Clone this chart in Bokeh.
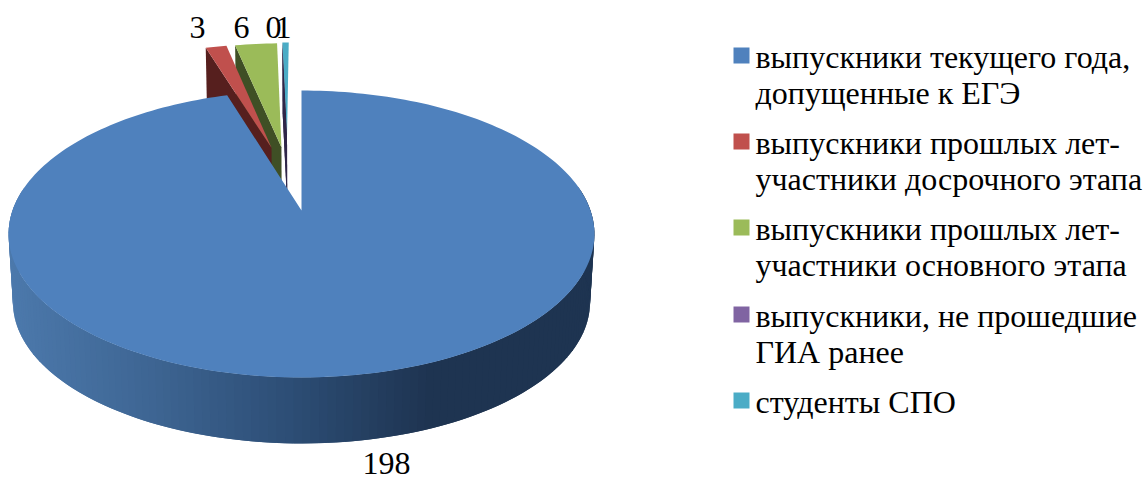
import math
from bokeh.plotting import figure
from bokeh.models import Range1d
from bokeh.embed import file_html
from bokeh.resources import INLINE
from bokeh.core.properties import value

# ---- data ----
categories = [
    ["выпускники текущего года,", "допущенные к ЕГЭ"],
    ["выпускники прошлых лет-", "участники досрочного этапа"],
    ["выпускники прошлых лет-", "участники основного этапа"],
    ["выпускники, не прошедшие", "ГИА ранее"],
    ["студенты СПО"],
]
values = [198, 3, 6, 0, 1]
labels = ["198", "3", "6", "0", "1"]
top_colors = ["#4F81BD", "#C0504D", "#9BBB59", "#8064A2", "#4BACC6"]
wall_colors = ["#2f5079", "#561f1e", "#3f4f25", "#2f2648", "#2f2648"]

# ---- style / layout ----
W, H = 1145, 481
FONT = value("Liberation Serif")
CX, CY = 301.0, 210.0
B, A, C = 0.1638, 139.6, 289.0
DEPTH, SHRINK = 68.5, 0.985
# explosion of each slice on the pie's plane (X, Y), radius factor
explode = [(0, 0, 1.0), (-0.112, 0.485, 1.0), (-0.075, 0.49, 1.0), (-0.055, 0.59, 0.91), (-0.055, 0.59, 0.91)]


def proj(X, Y, low=False):
    d = 1 + B * Y
    x, y = C * X / d, -A * Y / d
    if low:
        return CX + SHRINK * x, CY + SHRINK * y + DEPTH
    return CX + x, CY + y


total = sum(values)
angles = [0.0]
for v in values:
    angles.append(angles[-1] + v / total * 2 * math.pi)


def rim(t, ex, low=False):
    return proj(ex[0] + ex[2] * math.sin(t), ex[1] + ex[2] * math.cos(t), low)


def mix(a, b, f):
    ca = [int(a[i:i + 2], 16) for i in (1, 3, 5)]
    cb = [int(b[i:i + 2], 16) for i in (1, 3, 5)]
    return "#%02x%02x%02x" % tuple(round(p + (q - p) * f) for p, q in zip(ca, cb))


def wall_shade(x):
    stops = [(10, "#4c79ac"), (150, "#3f6795"), (300, "#2d4e76"), (440, "#1e3451"), (600, "#1e3451")]
    for (x0, c0), (x1, c1) in zip(stops, stops[1:]):
        if x <= x1:
            return mix(c0, c1, (x - x0) / (x1 - x0))
    return stops[-1][1]


p = figure(width=W, height=H, x_range=Range1d(0, W), y_range=Range1d(H, 0),
           output_backend="svg", toolbar_location=None, min_border=0,
           outline_line_color=None, background_fill_color="white", border_fill_color="white")
p.axis.visible = False
p.grid.visible = False

# exploded slices, back ones first: radial wall, then top face
for i in (4, 3, 2, 1):
    a0, a1 = angles[i], angles[i + 1]
    ex = explode[i]
    vert = proj(ex[0], ex[1])
    vlow = proj(ex[0], ex[1], True)
    c0, c0low = rim(a0, ex), rim(a0, ex, True)
    p.patch([c0[0], vert[0], vlow[0], c0low[0]], [c0[1], vert[1], vlow[1], c0low[1]],
            fill_color=wall_colors[i], line_color=None)
    if values[i] > 0:
        n = 8
        ts = [a0 + (a1 - a0) * k / n for k in range(n + 1)]
        pts = [vert] + [rim(t, ex) for t in ts]
        p.patch([q[0] for q in pts], [q[1] for q in pts],
                fill_color=top_colors[i], line_color=None)

# main slice: side wall (shaded strips, each overlapping the next) and top face
a0, a1 = angles[0], angles[1]
ex = explode[0]
n = 240
ts = [a0 + (a1 - a0) * k / n for k in range(n + 1)]
for k in range(n - 1, -1, -1):
    t0, t1 = ts[k], ts[min(k + 2, n)]
    if math.cos((t0 + t1) / 2) > 0.15:
        continue
    q0, q1 = rim(t0, ex), rim(t1, ex)
    r0, r1 = rim(t0, ex, True), rim(t1, ex, True)
    col = wall_shade(rim(ts[k], ex)[0])
    p.patch([q0[0], q1[0], r1[0], r0[0]], [q0[1], q1[1], r1[1], r0[1]],
            fill_color=col, line_color=None)
pts = [proj(ex[0], ex[1])] + [rim(t, ex) for t in ts]
p.patch([q[0] for q in pts], [q[1] for q in pts],
        fill_color=top_colors[0], line_color=None)

# data labels
lx = [386, 197, 241, 273, 283]
ly = [463, 27, 27, 27, 27]
p.text(lx, ly, text=labels, text_font=FONT, text_font_size="32px",
       text_color="black", text_align="center", text_baseline="alphabetic")

# legend
sw_y = [47, 133, 219, 306, 392]
first_base = [56, 142, 228, 315, 401]
LINE = 36.7
p.rect([741] * 5, [y + 8 for y in sw_y], width=16, height=16, fill_color=top_colors, line_color=None)
tx, ty, tt = [], [], []
for cat, b in zip(categories, first_base):
    for k, s in enumerate(cat):
        tx.append(755); ty.append(b + k * LINE); tt.append(s)
p.text(tx, ty, text=tt, text_font=FONT, text_font_size="32px", text_color="black",
       text_align="left", text_baseline="alphabetic")

open("out.html", "w").write(file_html(p, INLINE))
